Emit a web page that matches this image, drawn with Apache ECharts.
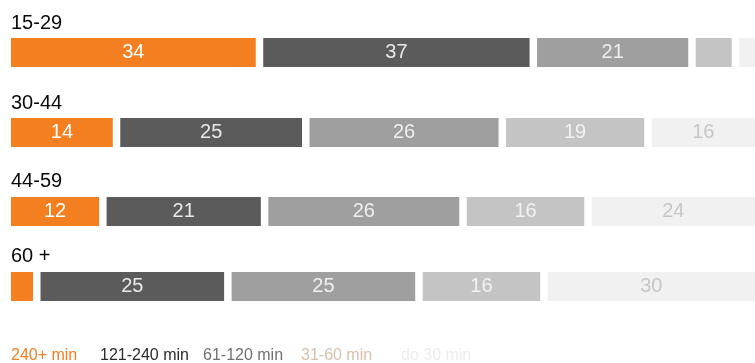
<!DOCTYPE html>
<html><head><meta charset="utf-8">
<script src="https://cdn.jsdelivr.net/npm/echarts@6/dist/echarts.min.js"></script>
<style>html,body{margin:0;padding:0;background:#fff}#c{width:755px;height:363px}</style>
</head><body><div id="c"></div>
<script>
// ---- data ----
const ageGroups = ['15-29', '30-44', '44-59', '60 +'];
const durations = ['240+ min', '121-240 min', '61-120 min', '31-60 min', 'do 30 min'];
const v240 = [34, 14, 12, 3];
const v121 = [37, 25, 21, 25];
const v61  = [21, 26, 26, 25];
const v31  = [5, 19, 16, 16];
const v30  = [4, 16, 24, 30];
const seriesValues = [v240, v121, v61, v31, v30];

// ---- styles / layout ----
const FONT = '"Liberation Sans", Arial, Helvetica, sans-serif';
const barColors = ['#f47f20', '#5b5b5b', '#9f9f9f', '#c4c4c4', '#f1f1f1'];
const labelColors = ['#ffffff', '#e8e8e8', '#efefef', '#f2f2f2', '#c6c6c6'];
const legendColors = ['#f47f20', '#2b2b2b', '#707070', '#d8c0ac', '#ececec'];
const rowTops = [38, 118, 197, 272];
const titleTops = [13, 93, 171, 246];
const legendLefts = [6, 95, 198, 296, 396];
const GAP = 1.03;            // gap between segments, in percent units
const FULL_W = 757;          // pixel width of a full 100% row incl. gaps (extends past the right edge)
const GRID_LEFT = 11;
const GRID_W = 755 - GRID_LEFT;
const BAR_H = 29;
const MIN_LABEL = 8;
const AXIS_MAX = (100 + 4 * GAP) * GRID_W / FULL_W;

const grids = [], xAxes = [], yAxes = [], titles = [], series = [];
ageGroups.forEach((g, r) => {
  grids.push({ left: GRID_LEFT, top: rowTops[r], width: GRID_W, height: BAR_H });
  xAxes.push({ type: 'value', gridIndex: r, min: 0, max: AXIS_MAX, show: false });
  yAxes.push({ type: 'category', gridIndex: r, data: [g], show: false });
  titles.push({ text: g, left: 11, top: titleTops[r], padding: 0,
    textStyle: { fontSize: 20, fontWeight: 'normal', color: '#0a0a0a', fontFamily: FONT } });
  const total = seriesValues.reduce((s, arr) => s + arr[r], 0);
  seriesValues.forEach((arr, k) => {
    if (k > 0) {
      series.push({ type: 'bar', name: '__gap', xAxisIndex: r, yAxisIndex: r, stack: 's' + r,
        barWidth: BAR_H, silent: true, clip: true, itemStyle: { color: 'rgba(0,0,0,0)' },
        label: { show: false }, data: [GAP] });
    }
    const raw = arr[r];
    series.push({
      type: 'bar', name: durations[k], xAxisIndex: r, yAxisIndex: r, stack: 's' + r,
      barWidth: BAR_H, clip: true,
      itemStyle: { color: barColors[k] },
      label: { show: raw >= MIN_LABEL, position: 'inside', color: labelColors[k],
        fontSize: 20, fontFamily: FONT, formatter: () => String(raw) },
      data: [raw / total * 100]
    });
  });
});

const legends = durations.map((d, k) => ({
  data: [d], left: legendLefts[k], top: 348, padding: 0, icon: 'none',
  itemWidth: 0, itemHeight: 0, selectedMode: false,
  textStyle: { color: legendColors[k], fontSize: 16, fontFamily: FONT }
}));

const chart = echarts.init(document.getElementById('c'), null, { renderer: 'canvas' });
chart.setOption({
  animation: false,
  backgroundColor: '#fff',
  title: titles,
  grid: grids,
  xAxis: xAxes,
  yAxis: yAxes,
  legend: legends,
  series: series
});
</script></body></html>
